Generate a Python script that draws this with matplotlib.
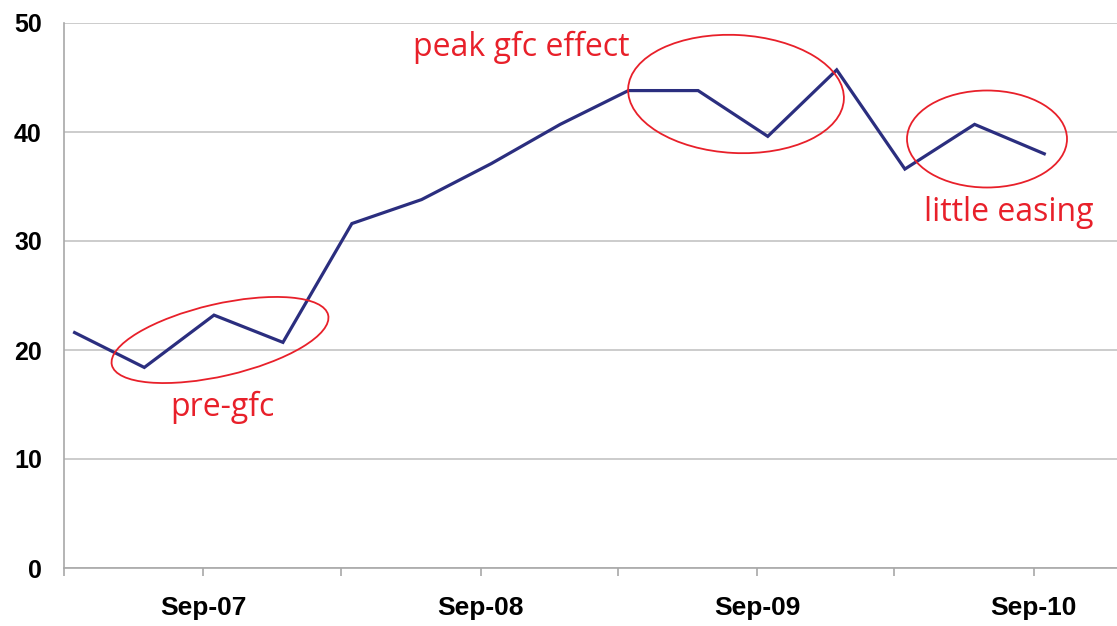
import matplotlib
matplotlib.use("Agg")
import matplotlib.pyplot as plt
from matplotlib.patches import Ellipse
from matplotlib.transforms import IdentityTransform
import pandas as pd

# ---- data ----
dates = pd.to_datetime([
    "2007-03-15", "2007-06-15", "2007-09-15", "2007-12-15",
    "2008-03-15", "2008-06-15", "2008-09-15", "2008-12-15",
    "2009-03-15", "2009-06-15", "2009-09-15", "2009-12-15",
    "2010-03-15", "2010-06-15", "2010-09-15",
])
values = [21.6, 18.4, 23.2, 20.7, 31.6, 33.8, 37.1, 40.7,
          43.8, 43.8, 39.6, 45.7, 36.6, 40.7, 38.0]
y_ticks = [0, 10, 20, 30, 40, 50]
x_label_dates = pd.to_datetime(["2007-09-01", "2008-09-01", "2009-09-01", "2010-09-01"])
x_label_texts = ["Sep-07", "Sep-08", "Sep-09", "Sep-10"]
x_minor_dates = pd.to_datetime(["2007-03-01", "2008-03-01", "2009-03-01", "2010-03-01"])

notes = ["pre-gfc", "peak gfc effect", "little easing"]

W, H = 1117, 626
fig = plt.figure(figsize=(W / 100, H / 100), dpi=100)
ax = fig.add_axes([64 / W, 58 / H, (W - 64) / W, (603 - 58) / H])

ax.plot(dates, values, color="#2b2e7f", lw=2.3, solid_joinstyle="miter", zorder=3)

ax.set_ylim(0, 50)
ax.set_xlim(pd.Timestamp("2007-03-01"), pd.Timestamp("2010-12-20"))
ax.set_yticks(y_ticks)
ax.set_yticklabels([str(v) for v in y_ticks], fontsize=18, fontweight="bold",
                   family="Liberation Sans")
ax.set_xticks(x_label_dates)
ax.set_xticklabels(x_label_texts, fontsize=19, fontweight="bold", family="Liberation Sans")
ax.set_xticks(x_minor_dates, minor=True)

ax.grid(axis="y", color="#c4c4c4", lw=1.2, zorder=0)
for s in ["top", "right"]:
    ax.spines[s].set_visible(False)
for s in ["left", "bottom"]:
    ax.spines[s].set_color("#a8a8a8")
    ax.spines[s].set_linewidth(1.2)
ax.tick_params(axis="y", length=0, pad=16)
ax.tick_params(axis="x", which="both", length=6, color="#a8a8a8", width=1.2, pad=14)

# ellipses in pixel coordinates (origin bottom-left)
ell_specs = [
    (220, 340, 222, 72, 13),
    (736, 94, 216, 118, -3),
    (987, 139, 160, 97, 0),
]
for cx, cy, w, h, ang in ell_specs:
    e = Ellipse((cx, H - cy), w, h, angle=ang, fill=False, edgecolor="#e8202a",
                lw=1.3, transform=IdentityTransform(), zorder=4)
    fig.add_artist(e)

text_pos = [(222, 407), (521, 47), (1009, 213)]
for t, (tx, ty) in zip(notes, text_pos):
    fig.text(tx / W, 1 - ty / H, t, color="#e8202a", fontsize=23, family="Open Sans",
             ha="center", va="center")

fig.savefig("out.png", dpi=100)
